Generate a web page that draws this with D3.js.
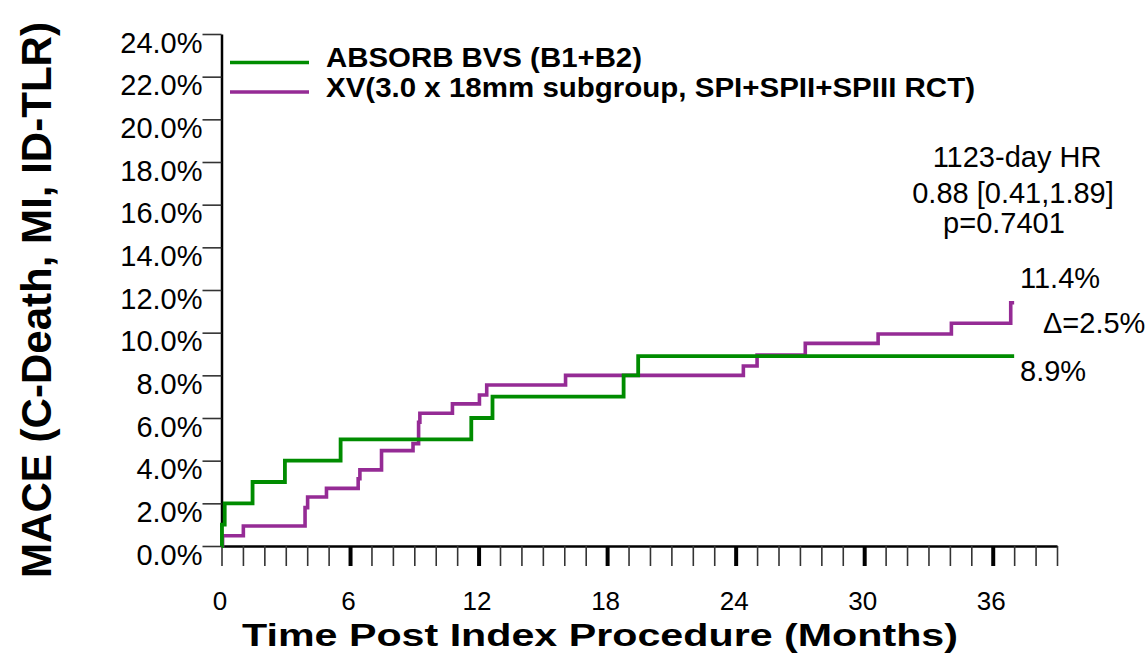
<!DOCTYPE html>
<html>
<head>
<meta charset="utf-8">
<script src="https://cdn.jsdelivr.net/npm/d3@7"></script>
<style>
  html, body { margin: 0; padding: 0; background: #fff; }
  svg { display: block; font-family: 'Liberation Sans', Arial, sans-serif; }
</style>
</head>
<body>
<svg width="1148" height="661" viewBox="0 0 1148 661"></svg>
<script>
// input data
// ABSORB BVS (B1+B2) - months / cumulative MACE %
const absorbMonths = [0, 0.02, 0.15, 1.45, 2.96, 5.56, 11.66, 12.65, 18.77, 19.45, 37.0];
const absorbRates = [0, 1.0, 2.0, 3.0, 4.0, 5.0, 6.0, 7.0, 8.0, 8.9, 8.9];
// XV (3.0 x 18mm subgroup)
const xvMonths = [0, 0.05, 1.02, 3.9, 4.02, 4.9, 6.38, 6.46, 7.47, 8.94, 9.2, 9.26, 10.78, 12.04, 12.38, 16.06, 24.36, 25.0, 27.25, 30.65, 34.07, 36.84, 37.0];
const xvRates = [0, 0.48, 0.94, 1.8, 2.3, 2.7, 3.15, 3.57, 4.47, 4.8, 5.8, 6.22, 6.66, 7.08, 7.55, 8.0, 8.44, 8.95, 9.5, 9.94, 10.44, 11.4, 11.4];

const seriesNames = ['ABSORB BVS (B1+B2)', 'XV(3.0 x 18mm subgroup, SPI+SPII+SPIII RCT)'];
const seriesColors = ['#008c00', '#952b95'];

const yTicks = [0, 2, 4, 6, 8, 10, 12, 14, 16, 18, 20, 22, 24];
const xTicks = d3.range(0, 40);
const xLabelTicks = [0, 6, 12, 18, 24, 30, 36];

const hrLines = ['1123-day HR', '0.88 [0.41,1.89]', 'p=0.7401'];
const endLabels = ['11.4%', '\u0394=2.5%', '8.9%'];

const svg = d3.select('svg');

// scales - plot area
const x = d3.scaleLinear().domain([0, 39]).range([221.5, 1057]);
const y = d3.scaleLinear().domain([0, 24]).range([546, 34]);

// Y AXIS
const yAxis = svg
  .append('g')
  .attr('transform', `translate(${x(0)} 0)`)
  .call(
    d3
      .axisLeft(y)
      .tickValues(yTicks)
      .tickSize(19)
      .tickSizeOuter(0)
      .tickFormat(d => `${d.toFixed(1)}%`)
  );
yAxis.select('.domain').attr('stroke', '#000').attr('stroke-width', 2.5);
yAxis.selectAll('.tick line').attr('stroke', '#333').attr('stroke-width', 1.6);
// labels sit just below their tick
yAxis
  .selectAll('.tick text')
  .attr('x', -19)
  .attr('dy', null)
  .attr('y', 18)
  .attr('fill', '#000')
  .attr('font-size', 29)
  .attr('font-family', 'Liberation Sans, Arial, sans-serif');

// X AXIS
const xAxis = svg
  .append('g')
  .attr('transform', `translate(0 ${y(0)})`)
  .call(
    d3
      .axisBottom(x)
      .tickValues(xTicks)
      .tickSize(20)
      .tickSizeOuter(0)
      .tickFormat(d => (xLabelTicks.includes(d) ? d : ''))
  );
xAxis.select('.domain').attr('stroke', '#000').attr('stroke-width', 2.5);
xAxis
  .selectAll('.tick line')
  .attr('stroke', d => (d > 0 && d % 6 === 0 ? '#000' : '#333'))
  .attr('stroke-width', d => (d > 0 && d % 6 === 0 ? 4 : 1.6));
xAxis
  .selectAll('.tick text')
  .attr('y', 46)
  .attr('x', -2)
  .attr('fill', '#000')
  .attr('font-size', 26)
  .attr('font-family', 'Liberation Sans, Arial, sans-serif');

// STEP CURVES
const line = d3
  .line()
  .x(d => x(d[0]))
  .y(d => y(d[1]))
  .curve(d3.curveStepAfter);

const curves = [
  d3.zip(absorbMonths, absorbRates),
  d3.zip(xvMonths, xvRates),
];

svg
  .append('g')
  .selectAll('path')
  .data(curves.slice().reverse())
  .enter()
  .append('path')
  .attr('d', line)
  .attr('fill', 'none')
  .attr('stroke', (d, i) => seriesColors[1 - i])
  .attr('stroke-width', (d, i) => (i === 1 ? 3.8 : 3.6))
  .attr('stroke-linejoin', 'miter');

// LEGEND
const legend = svg
  .append('g')
  .selectAll('g')
  .data(seriesNames)
  .enter()
  .append('g')
  .attr('transform', (d, i) => `translate(230 ${62.5 + i * 29.5})`);

legend
  .append('line')
  .attr('x1', 0)
  .attr('x2', 79)
  .attr('stroke', (d, i) => seriesColors[i])
  .attr('stroke-width', 3.4);

legend
  .append('text')
  .attr('x', 96)
  .attr('y', 4.5)
  .attr('font-size', 27)
  .attr('font-weight', 'bold')
  .attr('textLength', (d, i) => (i === 0 ? 316 : 649))
  .attr('lengthAdjust', 'spacingAndGlyphs')
  .text(d => d);

// HAZARD RATIO ANNOTATION
svg
  .append('g')
  .selectAll('text')
  .data(hrLines)
  .enter()
  .append('text')
  .attr('x', (d, i) => [1017, 1013, 1004][i])
  .attr('y', (d, i) => [167, 203, 233][i])
  .attr('text-anchor', 'middle')
  .attr('font-size', 29)
  .text(d => d);

// END-OF-CURVE LABELS
svg
  .append('g')
  .selectAll('text')
  .data(endLabels)
  .enter()
  .append('text')
  .attr('x', (d, i) => [1020, 1043, 1020][i])
  .attr('y', (d, i) => [288, 333, 381][i])
  .attr('font-size', 29)
  .text(d => d);

// AXIS TITLES
svg
  .append('text')
  .attr('x', 600)
  .attr('y', 646)
  .attr('text-anchor', 'middle')
  .attr('font-size', 31)
  .attr('font-weight', 'bold')
  .attr('textLength', 716)
  .attr('lengthAdjust', 'spacingAndGlyphs')
  .text('Time Post Index Procedure (Months)');

svg
  .append('text')
  .attr('transform', 'translate(51 300) rotate(-90)')
  .attr('text-anchor', 'middle')
  .attr('font-size', 43)
  .attr('font-weight', 'bold')
  .attr('textLength', 556)
  .attr('lengthAdjust', 'spacingAndGlyphs')
  .text('MACE (C-Death, MI, ID-TLR)');
</script>
</body>
</html>
